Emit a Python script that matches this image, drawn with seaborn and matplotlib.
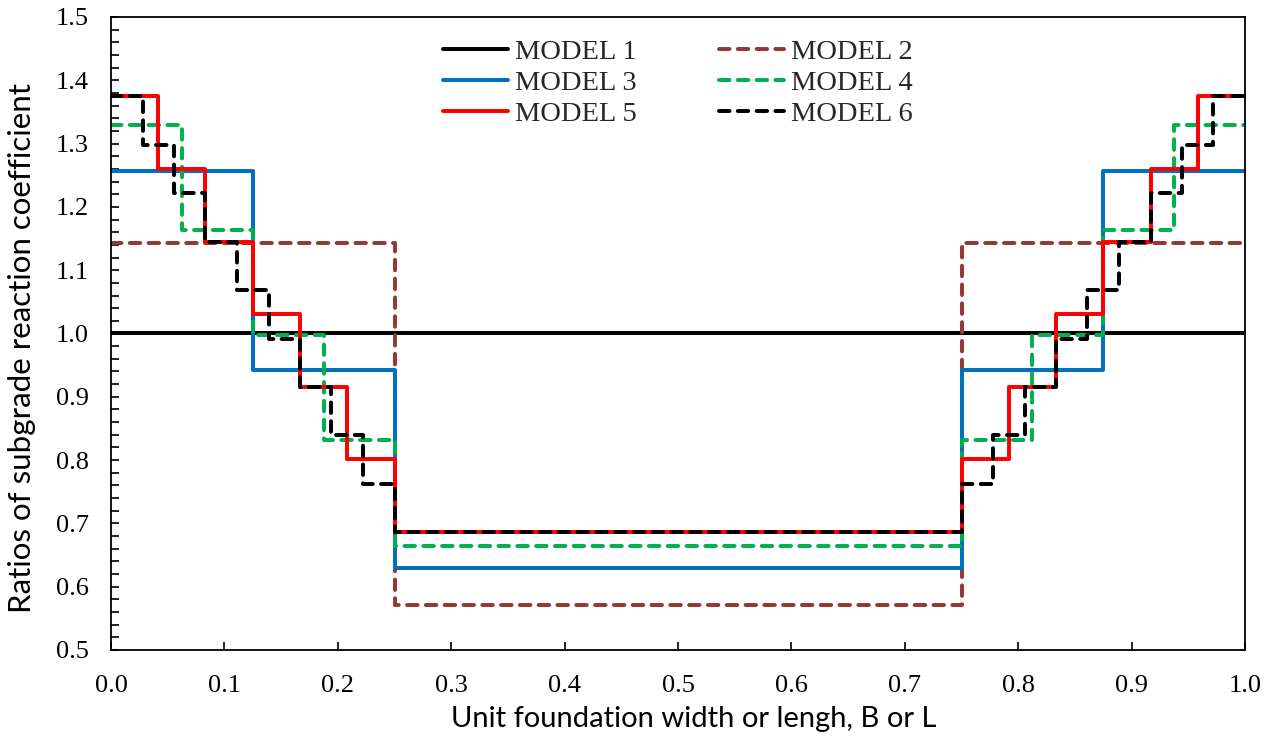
import matplotlib
matplotlib.use("Agg")
import matplotlib.pyplot as plt
from matplotlib.ticker import MultipleLocator, FormatStrFormatter
import seaborn as sns
import pandas as pd

# Step profiles of the subgrade reaction ratio across the unit width
m1_x = [0.0, 1.0]
m1_y = [1.000, 1.000]

m2_x = [0.0, 0.25, 0.75, 1.0]
m2_y = [1.143, 0.571, 1.143, 1.143]

m3_x = [0.0, 0.125, 0.25, 0.75, 0.875, 1.0]
m3_y = [1.257, 0.943, 0.629, 0.943, 1.257, 1.257]

m4_x = [0.0, 0.0625, 0.125, 0.1875, 0.25, 0.75, 0.8125, 0.875, 0.9375, 1.0]
m4_y = [1.329, 1.163, 0.997, 0.831, 0.664, 0.831, 0.997, 1.163, 1.329, 1.329]

m5_x = [0.0, 0.0417, 0.0833, 0.125, 0.1667, 0.2083, 0.25,
        0.75, 0.7917, 0.8333, 0.875, 0.9167, 0.9583, 1.0]
m5_y = [1.375, 1.260, 1.145, 1.031, 0.916, 0.802, 0.687,
        0.802, 0.916, 1.031, 1.145, 1.260, 1.375, 1.375]

m6_x = [0.0, 0.0278, 0.0556, 0.0833, 0.1111, 0.1389, 0.1667, 0.1944, 0.2222, 0.25,
        0.75, 0.7778, 0.8056, 0.8333, 0.8611, 0.8889, 0.9167, 0.9444, 0.9722, 1.0]
m6_y = [1.375, 1.298, 1.222, 1.145, 1.069, 0.992, 0.916, 0.840, 0.763, 0.687,
        0.763, 0.840, 0.916, 0.992, 1.069, 1.145, 1.222, 1.298, 1.375, 1.375]

model_names = ["MODEL 1", "MODEL 2", "MODEL 3", "MODEL 4", "MODEL 5", "MODEL 6"]
xs = [m1_x, m2_x, m3_x, m4_x, m5_x, m6_x]
ys = [m1_y, m2_y, m3_y, m4_y, m5_y, m6_y]

colors = ["#000000", "#953735", "#0070C0", "#00B050", "#FF0000", "#000000"]
dash = (0, (2.65, 2.1))
styles = ["-", dash, "-", dash, "-", dash]

sns.set_theme(style="white")
plt.rcParams["font.family"] = ["Liberation Serif", "DejaVu Sans"]

fig = plt.figure(figsize=(12.77, 7.45), dpi=100)
ax = fig.add_axes([111 / 1277, 1 - 650 / 745, 1134 / 1277, 633 / 745])

for name, x, y, c, ls in zip(model_names, xs, ys, colors, styles):
    df = pd.DataFrame({"x": x, "y": y})
    sns.lineplot(data=df, x="x", y="y", ax=ax, color=c, linewidth=2.85,
                 linestyle=ls, drawstyle="steps-post", label=name,
                 estimator=None, sort=False, dash_capstyle="round")

ax.set_xlim(0, 1)
ax.set_ylim(0.5, 1.5)
ax.xaxis.set_major_locator(MultipleLocator(0.1))
ax.yaxis.set_major_locator(MultipleLocator(0.1))
ax.yaxis.set_minor_locator(MultipleLocator(0.02))
ax.xaxis.set_major_formatter(FormatStrFormatter("%.1f"))
ax.yaxis.set_major_formatter(FormatStrFormatter("%.1f"))

ax.tick_params(axis="both", which="both", direction="in", colors="black",
               labelsize=19)
ax.tick_params(axis="x", which="major", length=6, width=1.2, bottom=True, top=False, pad=18)
ax.tick_params(axis="y", which="major", length=6, width=1.2, left=True, right=False, pad=16)
ax.tick_params(axis="y", which="minor", length=6, width=1.2, left=True, right=False)

for sp in ax.spines.values():
    sp.set_visible(True)
    sp.set_color("black")
    sp.set_linewidth(1.3)

ax.set_xlabel("Unit foundation width or lengh, B or L", family=["Lato", "DejaVu Sans"],
              fontsize=21, color="black", va="center", ha="center")
ax.xaxis.set_label_coords((694 - 111) / 1134, (650 - 719) / 633)
ax.set_ylabel("Ratios of subgrade reaction coefficient", family=["Lato", "DejaVu Sans"],
              fontsize=22.5, color="black", va="center", ha="center")
ax.yaxis.set_label_coords((22 - 111) / 1134, (650 - 348) / 633)

h, l = ax.get_legend_handles_labels()
order = [0, 2, 4, 1, 3, 5]
ax.legend([h[i] for i in order], [l[i] for i in order], ncol=2, frameon=False,
          loc="upper left", bbox_to_anchor=((443 - 111) / 1134, (650 - 39) / 633),
          borderpad=0, borderaxespad=0, fontsize=20.5, handlelength=2.28,
          handletextpad=0.25, columnspacing=2.9, labelspacing=0.18)

fig.savefig("out.png", dpi=100)
